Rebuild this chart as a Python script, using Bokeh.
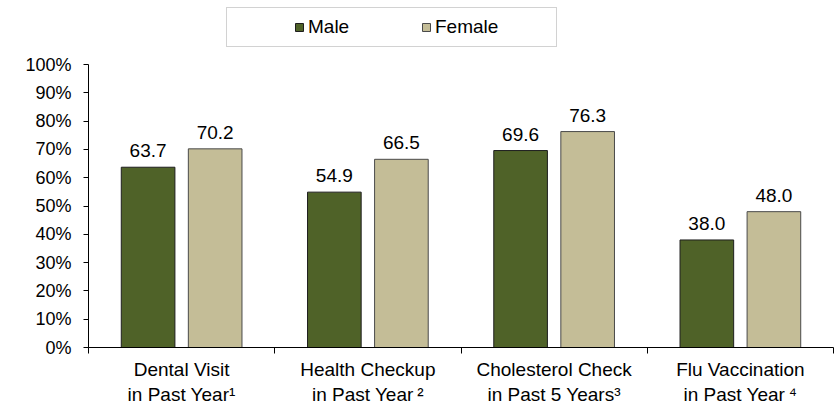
import numpy as np
from bokeh.plotting import figure
from bokeh.models import ColumnDataSource, FixedTicker, LabelSet, Legend, LegendItem, Range1d
from bokeh.core.properties import value
from bokeh.embed import file_html
from bokeh.resources import INLINE

categories = ["Dental Visit\nin Past Year\u00b9",
              "Health Checkup\nin Past Year\u2009\u00b2",
              "Cholesterol Check\nin Past 5 Years\u00b3",
              "Flu Vaccination\nin Past Year\u2009\u2074"]
male = [63.7, 54.9, 69.6, 38.0]
female = [70.2, 66.5, 76.3, 48.0]
series_names = ["Male", "Female"]
y_ticks = [0, 10, 20, 30, 40, 50, 60, 70, 80, 90, 100]
y_tick_labels = ["0%", "10%", "20%", "30%", "40%", "50%", "60%", "70%", "80%", "90%", "100%"]

FONT = "Liberation Sans"
FS = "19px"
MALE_COLOR = "#4F6228"
FEMALE_COLOR = "#C4BD97"
OFFSET = 0.18
BAR_W = 0.288

# frame spans from the top of the figure to the 0% line; the axis is bounded at 100%
FRAME_H = 347
PLOT_H = 283  # pixels from 0% to 100%

idx = np.arange(len(categories))
src_m = ColumnDataSource(dict(x=idx - OFFSET, y=male, label=[f"{v:.1f}" for v in male]))
src_f = ColumnDataSource(dict(x=idx + OFFSET, y=female, label=[f"{v:.1f}" for v in female]))

p = figure(frame_width=745, frame_height=FRAME_H,
           min_border_left=88, min_border_right=2, min_border_top=0, min_border_bottom=66,
           x_range=Range1d(-0.5, len(categories) - 0.5),
           y_range=Range1d(0, 100 * FRAME_H / PLOT_H),
           output_backend="svg", toolbar_location=None)
p.outline_line_color = None
p.xgrid.visible = False
p.ygrid.visible = False
p.background_fill_color = "white"
p.border_fill_color = "white"

rm = p.vbar(x="x", top="y", width=BAR_W, source=src_m, fill_color=MALE_COLOR,
            line_color="#1e1e1e", line_width=1)
rf = p.vbar(x="x", top="y", width=BAR_W, source=src_f, fill_color=FEMALE_COLOR,
            line_color="#4a4a4a", line_width=1)

for s in (src_m, src_f):
    p.add_layout(LabelSet(x="x", y="y", text="label", source=s, text_align="center",
                          text_baseline="alphabetic", y_offset=10,
                          text_font=value(FONT), text_font_size=FS, text_color="#000000"))

# y axis
ya = p.yaxis[0]
ya.bounds = (0, 100)
ya.ticker = FixedTicker(ticks=y_ticks)
ya.major_label_overrides = {t: l for t, l in zip(y_ticks, y_tick_labels)}
ya.major_tick_out = 5
ya.major_tick_in = 0
ya.minor_tick_line_color = None
ya.major_label_standoff = 12
ya.axis_line_color = "black"
ya.major_tick_line_color = "black"
ya.major_label_text_font = FONT
ya.major_label_text_font_size = "18px"
ya.major_label_text_color = "#000000"

# x axis
xa = p.xaxis[0]
xa.ticker = FixedTicker(ticks=list(idx), minor_ticks=[i - 0.5 for i in range(len(categories) + 1)])
xa.major_label_overrides = {int(i): c for i, c in zip(idx, categories)}
xa.major_tick_out = 0
xa.major_tick_in = 0
xa.minor_tick_out = 6
xa.minor_tick_in = 0
xa.minor_tick_line_color = "black"
xa.axis_line_color = "black"
xa.major_label_standoff = 5
xa.major_label_text_font = FONT
xa.major_label_text_font_size = FS
xa.major_label_text_color = "#000000"

legend = Legend(items=[LegendItem(label=series_names[0], renderers=[rm]),
                       LegendItem(label=series_names[1], renderers=[rf])],
                orientation="horizontal", location=(138, 300),
                title=" ", title_location="left", title_standoff=44,
                title_text_font_size="13px",
                padding=8, spacing=0, margin=0,
                glyph_width=10, glyph_height=10, label_standoff=4, label_width=113,
                label_text_font=FONT, label_text_font_size=FS, label_text_color="#000000",
                border_line_color="#a6a6a6", border_line_width=1,
                background_fill_color="white", background_fill_alpha=1)
p.add_layout(legend)

open("out.html", "w").write(file_html(p, INLINE))
